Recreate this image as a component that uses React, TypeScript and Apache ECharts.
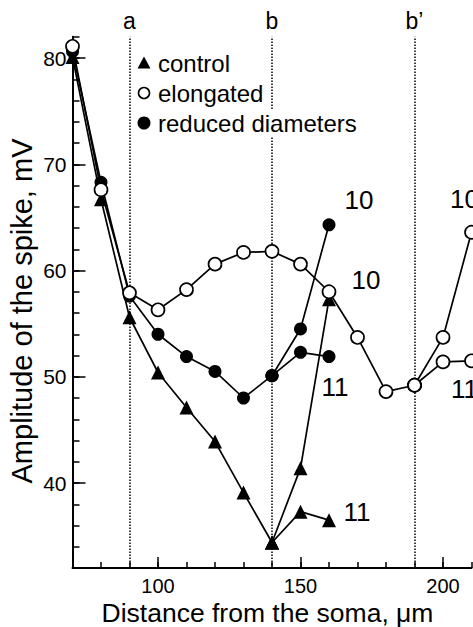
import React, { useEffect, useRef } from "react";
import * as echarts from "echarts";

// ---- data ----
const mainX = [70, 80, 90, 100, 110, 120, 130, 140];
const controlMain = [80.1, 66.7, 55.6, 50.4, 47.1, 43.9, 39.1, 34.4];
const reducedMain = [80.6, 68.3, 57.6, 54.0, 51.9, 50.5, 48.0, 50.1];
const branchX = [140, 150, 160];
const control10 = [34.4, 41.4, 57.3];
const control11 = [34.4, 37.3, 36.5];
const reduced10 = [50.1, 54.5, 64.3];
const reduced11 = [50.1, 52.3, 51.9];
const elongX = [70, 80, 90, 100, 110, 120, 130, 140, 150, 160, 170, 180, 190];
const elongMain = [81.1, 67.6, 57.9, 56.3, 58.2, 60.6, 61.7, 61.8, 60.6, 58.0, 53.7, 48.6, 49.2];
const elongBranchX = [190, 200, 210];
const elong10 = [49.2, 53.7, 63.6];
const elong11 = [49.2, 51.4, 51.5];
const markerLines = [
  { x: 90, label: "a" },
  { x: 140, label: "b" },
  { x: 190, label: "b\u2019" },
];
const xMajor = [100, 150, 200];
const yMajor = [40, 50, 60, 70, 80];
const legendNames = ["control", "elongated", "reduced diameters"];
const xTitle = "Distance from the soma, \u03bcm";
const yTitle = "Amplitude of the spike, mV";

const FONT = "'Liberation Sans', Arial, Helvetica, sans-serif";

function zip(xs: number[], ys: number[], endLabel?: string, offset?: number[]) {
  return xs.map((x, i) => {
    const item: any = { value: [x, ys[i]] };
    if (endLabel && i === xs.length - 1) {
      item.label = {
        show: true,
        formatter: endLabel,
        position: "inside",
        align: "center",
        verticalAlign: "middle",
        offset,
        fontSize: 26,
        color: "#000",
        fontFamily: FONT,
      };
    }
    return item;
  });
}

export default function App() {
  const ref = useRef<HTMLDivElement>(null);
  useEffect(() => {
    if (!ref.current) return;
    const chart = echarts.init(ref.current, undefined, { renderer: "svg" });
    const lineStyle = { color: "#000", width: 1.7 };
    const tri = {
      symbol: "triangle",
      symbolSize: 14,
      itemStyle: { color: "#000" },
    };
    const filled = {
      symbol: "circle",
      symbolSize: 13,
      itemStyle: { color: "#000" },
    };
    const open = {
      symbol: "circle",
      symbolSize: 13,
      itemStyle: { color: "#fff", borderColor: "#000", borderWidth: 1.7 },
    };
    const base = {
      type: "line",
      xAxisIndex: 0,
      yAxisIndex: 0,
      clip: false,
      lineStyle,
      showAllSymbol: true,
      label: { show: false },
    };
    const axisColor = "#000";
    const option: any = {
      animation: false,
      backgroundColor: "#fff",
      grid: { left: 72.5, right: 1.5, top: 36.75, bottom: 59, containLabel: false },
      xAxis: [
        {
          type: "value",
          min: 70,
          max: 210,
          interval: 10,
          position: "bottom",
          axisLine: { show: true, lineStyle: { color: axisColor, width: 2 } },
          axisTick: { show: true, inside: true, length: 6, lineStyle: { color: axisColor, width: 1.5 } },
          axisLabel: { show: false },
          splitLine: { show: false },
        },
        {
          type: "value",
          min: 70,
          max: 210,
          position: "bottom",
          axisLine: { show: false },
          axisTick: {
            show: true,
            inside: true,
            length: 11,
            customValues: xMajor,
            lineStyle: { color: axisColor, width: 1.5 },
          },
          axisLabel: {
            show: true,
            customValues: xMajor,
            fontSize: 20,
            margin: 8,
            color: "#000",
            fontFamily: FONT,
          },
          splitLine: { show: false },
        },
      ],
      yAxis: [
        {
          type: "value",
          min: 32,
          max: 82,
          interval: 2,
          position: "left",
          axisLine: { show: true, lineStyle: { color: axisColor, width: 2 } },
          axisTick: { show: true, inside: true, length: 7, lineStyle: { color: axisColor, width: 1.5 } },
          axisLabel: { show: false },
          splitLine: { show: false },
        },
        {
          type: "value",
          min: 32,
          max: 82,
          position: "left",
          axisLine: { show: false },
          axisTick: {
            show: true,
            inside: true,
            length: 13,
            customValues: yMajor,
            lineStyle: { color: axisColor, width: 1.5 },
          },
          axisLabel: {
            show: true,
            customValues: yMajor,
            fontSize: 21,
            margin: 6,
            color: "#000",
            fontFamily: FONT,
          },
          splitLine: { show: false },
        },
      ],
      series: [
        {
          ...base,
          ...tri,
          name: legendNames[0],
          z: 3,
          data: zip(mainX, controlMain),
          markLine: {
            silent: true,
            symbol: ["none", "none"],
            lineStyle: { color: "#000", width: 1.5, type: [1.5, 1.5] },
            label: {
              show: true,
              position: "end",
              formatter: "{b}",
              fontSize: 23,
              color: "#000",
              fontFamily: FONT,
              distance: 4,
            },
            data: markerLines.map((m) => ({ xAxis: m.x, name: m.label })),
          },
        },
        { ...base, ...tri, name: legendNames[0], z: 3, data: zip(branchX, control10, "10", [37, -19]) },
        { ...base, ...tri, name: legendNames[0], z: 3, data: zip(branchX, control11, "11", [28, -8]) },
        { ...base, ...filled, name: legendNames[2], z: 4, data: zip(mainX, reducedMain) },
        { ...base, ...filled, name: legendNames[2], z: 4, data: zip(branchX, reduced10, "10", [30, -25]) },
        { ...base, ...filled, name: legendNames[2], z: 4, data: zip(branchX, reduced11, "11", [6, 30]) },
        { ...base, ...open, name: legendNames[1], z: 5, data: zip(elongX, elongMain) },
        { ...base, ...open, name: legendNames[1], z: 5, data: zip(elongBranchX, elong10, "10", [-7, -33]) },
        { ...base, ...open, name: legendNames[1], z: 5, data: zip(elongBranchX, elong11, "11", [-7, 28]) },
      ],
      graphic: [
        {
          type: "text",
          z: 100,
          x: 267.5,
          y: 613,
          style: {
            text: xTitle,
            fontSize: 26.5,
            fontFamily: FONT,
            fill: "#000",
            align: "center",
            verticalAlign: "middle",
          },
        },
        {
          type: "text",
          z: 100,
          x: 22,
          y: 311,
          rotation: Math.PI / 2,
          style: {
            text: yTitle,
            fontSize: 29,
            fontFamily: FONT,
            fill: "#000",
            align: "center",
            verticalAlign: "middle",
          },
        },
        {
          type: "polygon",
          z: 100,
          shape: { points: [[144, 56.5], [150.5, 68.5], [137.5, 68.5]] },
          style: { fill: "#000" },
        },
        {
          type: "circle",
          z: 100,
          shape: { cx: 144, cy: 93, r: 5.5 },
          style: { fill: "#fff", stroke: "#000", lineWidth: 1.6 },
        },
        {
          type: "circle",
          z: 100,
          shape: { cx: 144, cy: 123, r: 6.5 },
          style: { fill: "#000" },
        },
        ...legendNames.map((name, i) => ({
          type: "text",
          z: 100,
          x: 157,
          y: 63 + i * 30,
          style: {
            text: name,
            fontSize: 24,
            fontFamily: FONT,
            fill: "#000",
            align: "left",
            verticalAlign: "middle",
            backgroundColor: "#fff",
            padding: [2, 1],
          },
        })),
      ],
    };
    chart.setOption(option);
    return () => chart.dispose();
  }, []);
  return (
    <div
      ref={ref}
      style={{ position: "absolute", left: 0, top: 0, width: 473, height: 627, background: "#fff" }}
    />
  );
}
